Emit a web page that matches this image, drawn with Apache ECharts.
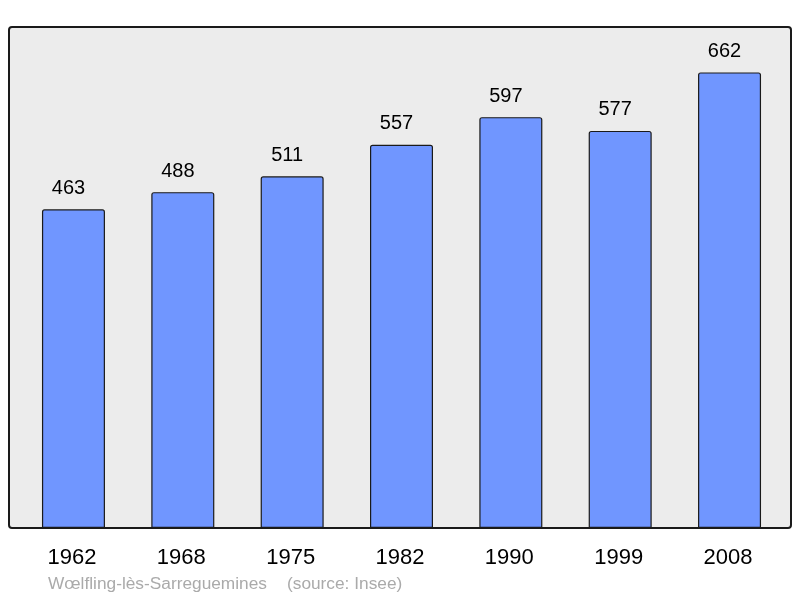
<!DOCTYPE html>
<html><head><meta charset="utf-8">
<script src="https://cdn.jsdelivr.net/npm/echarts@6/dist/echarts.min.js"></script>
<style>html,body{margin:0;padding:0;background:#fff}#c{width:800px;height:598px}</style>
</head><body><div id="c"></div>
<script>
var years = ['1962','1968','1975','1982','1990','1999','2008'];
var population = [463,488,511,557,597,577,662];
var placeName = 'Wœlfling-lès-Sarreguemines';
var sourceText = '(source: Insee)';

var chart = echarts.init(document.getElementById('c'));
var font = '"Liberation Sans", Arial, sans-serif';
chart.setOption({
  animation: false,
  grid: {left: 18.8, right: 15.8, top: 27, bottom: 70},
  xAxis: {
    type: 'category', data: years,
    axisLine: {show: false}, axisTick: {show: false},
    axisLabel: {fontSize: 22, color: '#000', fontFamily: font, margin: 19, padding: [0, 3, 0, 0]}
  },
  yAxis: {type: 'value', min: 0, max: 728, show: false, splitLine: {show: false}},
  graphic: [
    {type: 'rect', z: -10, shape: {x: 9, y: 27, width: 782, height: 501, r: 3},
     style: {fill: '#ececec', stroke: 'none'}},
    {type: 'rect', z: 100, shape: {x: 9, y: 27, width: 782, height: 501, r: 3},
     style: {fill: 'none', stroke: '#1a1a1a', lineWidth: 2}},
    {type: 'text', left: 48, top: 576, style: {text: placeName, fill: '#aaaaaa', fontSize: 17.3, fontFamily: font}},
    {type: 'text', left: 287, top: 576, style: {text: sourceText, fill: '#aaaaaa', fontSize: 17.3, fontFamily: font}}
  ],
  series: [{
    type: 'bar', data: population, barWidth: 63,
    itemStyle: {color: '#7096ff', borderColor: '#1a1a1a', borderWidth: 1.2, borderRadius: [2,2,0,0]},
    label: {show: true, position: 'top', distance: 11, offset: [-5, 0], fontSize: 20, color: '#000', fontFamily: font}
  }]
});
</script></body></html>
